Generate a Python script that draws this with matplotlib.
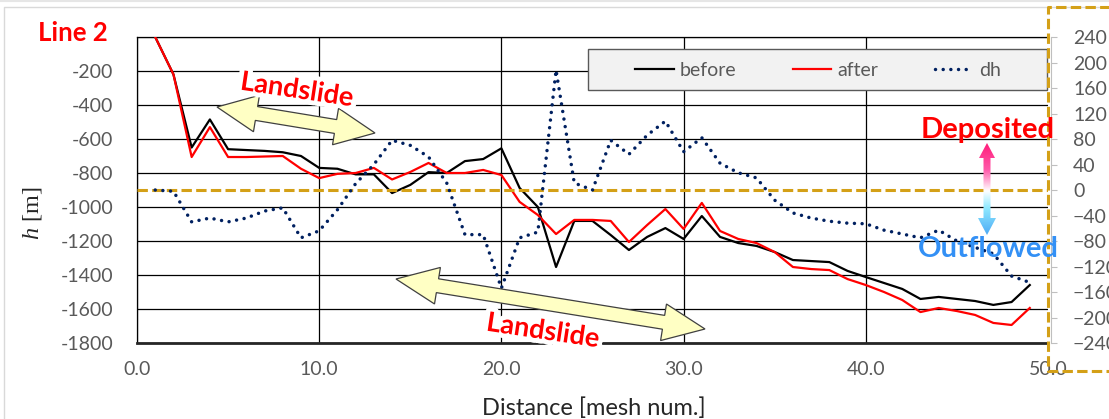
import numpy as np
import matplotlib
matplotlib.use("Agg")
import matplotlib.pyplot as plt
import matplotlib.patheffects as pe
from matplotlib.patches import Polygon, Rectangle
from matplotlib.colors import LinearSegmentedColormap

# mesh index along line 2
mesh = list(range(1, 50))

before = [0, -220, -650, -485, -660, -665, -670, -678, -700, -770,
          -775, -808, -808, -918, -870, -795, -800, -730, -718, -655,
          -888, -1000, -1353, -1082, -1082, -1165, -1253, -1176, -1124, -1188,
          -1053, -1176, -1212, -1229, -1265, -1312, -1318, -1324, -1376, -1412,
          -1447, -1482, -1541, -1529, -1541, -1553, -1576, -1559, -1459]

after = [0, -220, -706, -530, -706, -706, -703, -700, -775, -830,
         -805, -800, -770, -838, -794, -741, -800, -800, -782, -812,
         -970, -1047, -1159, -1076, -1076, -1082, -1206, -1106, -1012, -1129,
         -976, -1141, -1188, -1212, -1265, -1353, -1365, -1371, -1424, -1459,
         -1500, -1547, -1618, -1594, -1612, -1635, -1682, -1694, -1594]

dh = [0, -2, -50, -44, -50, -44, -33, -28, -75, -64,
      -31, 10, 40, 78, 70, 52, 11, -70, -70, -154,
      -75, -66, 188, 11, 0, 78, 56, 86, 108, 60,
      82, 42, 27, 19, -16, -36, -44, -49, -52, -53,
      -63, -69, -75, -63, -80, -90, -100, -135, -145]

h_ticks = list(range(-1800, 1, 200))
dh_ticks = list(range(-240, 241, 40))
dist_ticks = [0, 10, 20, 30, 40, 50]

plt.rcParams['font.family'] = ['Lato', 'DejaVu Sans']
plt.rcParams['mathtext.fontset'] = 'custom'
plt.rcParams['mathtext.it'] = 'Liberation Serif:italic'
plt.rcParams['mathtext.rm'] = 'Liberation Serif'

W, H = 1109, 419
fig = plt.figure(figsize=(W / 100, H / 100), dpi=100)

def fx(px):
    return px / W

def fy(py):
    return 1 - py / H

gold = '#D4A017'
tick_grey = '#595959'

ax = fig.add_axes([fx(137), fy(343), (1048 - 137) / W, (343 - 37) / H])
ax.plot(mesh, before, color='black', lw=1.6, label='before', zorder=3)
ax.plot(mesh, after, color='#ff0000', lw=1.6, label='after', zorder=3)
ax.set_xlim(0, 50)
ax.set_ylim(-1800, 0)
ax.set_xticks(dist_ticks)
ax.set_xticklabels([f'{v:.1f}' for v in dist_ticks])
ax.set_yticks(h_ticks)
ax.set_yticklabels(['' if v == 0 else str(v) for v in h_ticks])
ax.grid(True, color='black', lw=0.9)
ax.xaxis.get_gridlines()[-1].set_visible(False)
ax.set_axisbelow(True)
ax.tick_params(axis='both', length=0, labelsize=14, labelcolor=tick_grey)
ax.tick_params(axis='y', pad=17)
ax.tick_params(axis='x', pad=13)
ax.spines['right'].set_visible(False)
for s in ['top', 'left']:
    ax.spines[s].set_linewidth(0.9)
ax.spines['bottom'].set_linewidth(2)
ax.spines['bottom'].set_color('#262626')

ax2 = ax.twinx()
ax2.plot(mesh, dh, color='#002060', lw=2.5, ls=(0, (0.01, 2.2)),
         dash_capstyle='round', label='dh', zorder=3)
ax2.axhline(0, color=gold, lw=2.2, ls=(0, (3.4, 1.4)), zorder=2)
ax2.set_ylim(-240, 240)
ax2.set_yticks(dh_ticks)
ax2.tick_params(axis='y', length=4, color='#bfbfbf', labelsize=14,
                labelcolor=tick_grey, pad=12)
for s in ['top', 'left', 'bottom']:
    ax2.spines[s].set_visible(False)
ax2.spines['right'].set_color('#bfbfbf')
ax2.spines['right'].set_position(('outward', 2))

# axis titles
fig.text(fx(594), fy(408), 'Distance [mesh num.]', fontsize=17,
         color='#262626', ha='center', va='center')
fig.text(fx(33), fy(213), r'$h$ [m]', fontsize=17.5, family='Liberation Serif',
         rotation=90, ha='center', va='center', color='#262626')
fig.text(fx(38), fy(33), 'Line 2', color='#ff0000', fontsize=18.5,
         weight='bold', ha='left', va='center')

# overlay in pixel coordinates for the annotations
ov = fig.add_axes([0, 0, 1, 1], zorder=5)
ov.axis('off')

# chart frame
ov.plot([W + 5, 4, 4], [7, 7, H + 5], color='#d9d9d9', lw=1)
ov.plot([0, W], [0.8, 0.8], color='#e6e6e6', lw=1.5)

# dashed box round the secondary axis
ov.plot([W + 10, 1048, 1048, W + 10], [7, 7, 371, 371], color=gold,
        lw=2.2, ls=(0, (3.4, 1.4)))

# legend box
ov.add_patch(Rectangle((588, 49), 1047 - 588, 41, facecolor='#f2f2f2',
                       edgecolor='#595959', lw=1))
handles = ax.get_lines()[:2] + ax2.get_lines()[:1]
ov.legend(handles, ['before', 'after', 'dh'], loc='center', ncol=3,
          bbox_to_anchor=(818, 70), bbox_transform=ov.transData,
          frameon=False, fontsize=14, labelcolor=tick_grey,
          handlelength=2.0, handletextpad=0.3, columnspacing=2.9)


def dbl_arrow(p0, p1, shaft_w, head_w, head_l):
    p0 = np.array(p0, float)
    p1 = np.array(p1, float)
    u = (p1 - p0) / np.hypot(*(p1 - p0))
    n = np.array([-u[1], u[0]])
    a = p0 + u * head_l
    b = p1 - u * head_l
    pts = [p0, a + n * head_w / 2, a + n * shaft_w / 2, b + n * shaft_w / 2,
           b + n * head_w / 2, p1, b - n * head_w / 2, b - n * shaft_w / 2,
           a - n * shaft_w / 2, a - n * head_w / 2]
    return Polygon(pts, closed=True, facecolor='#ffffc4', edgecolor='#404040',
                   lw=0.9, zorder=6)


ov.add_patch(dbl_arrow((217, 107), (375, 133), 14, 37, 40))
ov.add_patch(dbl_arrow((396, 279), (705, 329), 14, 37, 42))

glow = [pe.withStroke(linewidth=7, foreground='white')]
ov.text(297, 90, 'Landslide', color='#ff0000', fontsize=19.5, weight='bold',
        rotation=-8.5, ha='center', va='center', path_effects=glow, zorder=7)
ov.text(543, 331, 'Landslide', color='#ff0000', fontsize=19.5, weight='bold',
        rotation=-8.5, ha='center', va='center', path_effects=glow, zorder=7)

# gradient up/down arrow
cmap = LinearSegmentedColormap.from_list(
    'dep', [(0, '#ff1a78'), (0.3, '#ff5cab'), (0.52, '#ffffff'),
            (0.7, '#8fe9ff'), (1, '#4aa8f5')])
grad = np.linspace(0, 1, 256).reshape(-1, 1)
im = ov.imshow(grad, extent=(975, 999, 236, 142), cmap=cmap, aspect='auto',
               zorder=6)
cx = 987
arrow_pts = [(cx, 143), (cx + 8, 158), (cx + 3.5, 158), (cx + 3.5, 218),
             (cx + 9, 218), (cx, 235), (cx - 9, 218), (cx - 3.5, 218),
             (cx - 3.5, 158), (cx - 8, 158)]
clip = Polygon(arrow_pts, closed=True, facecolor='none', edgecolor='none')
ov.add_patch(clip)
im.set_clip_path(clip)

ov.text(988, 130, 'Deposited', color='#ff0000', fontsize=21, weight='bold',
        ha='center', va='center', zorder=7)
ov.text(988, 249, 'Outflowed', color='#3390f5', fontsize=21, weight='bold',
        ha='center', va='center', zorder=7)

ov.set_xlim(0, W)
ov.set_ylim(H, 0)

fig.savefig('out.png', dpi=100)
